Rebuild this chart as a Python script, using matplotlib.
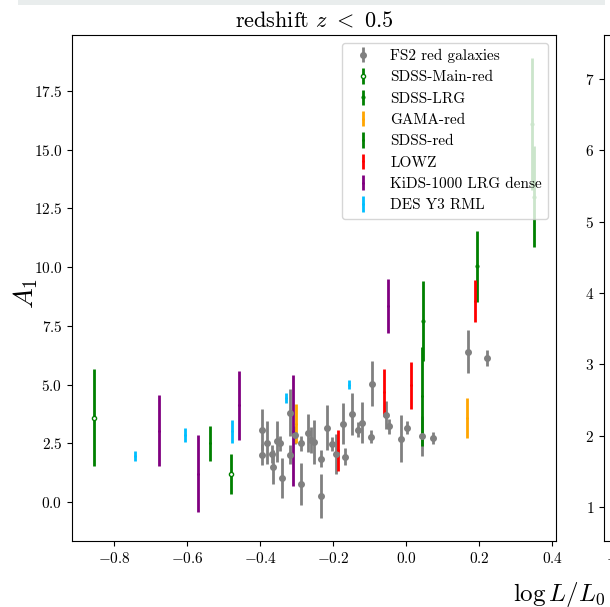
import matplotlib
matplotlib.use("Agg")
import matplotlib.pyplot as plt
from matplotlib.patches import Rectangle

plt.rcParams['font.family'] = 'serif'
plt.rcParams['font.serif'] = ['cmr10']
plt.rcParams['mathtext.fontset'] = 'cm'
plt.rcParams['axes.formatter.use_mathtext'] = True
plt.rcParams['axes.unicode_minus'] = True

# ---- data (log L/L0, A1, error) ----
fs2_x = [-0.394, -0.394, -0.381, -0.367, -0.364, -0.354, -0.345, -0.339, -0.319, -0.319,
         -0.304, -0.289, -0.289, -0.269, -0.262, -0.253, -0.233, -0.233, -0.217, -0.203,
         -0.193, -0.174, -0.168, -0.148, -0.133, -0.121, -0.097, -0.093, -0.055, -0.048,
         -0.0145, 0.002, 0.043, 0.074, 0.170, 0.222]
fs2_y = [3.09, 2.03, 2.54, 2.05, 1.50, 2.60, 2.50, 1.05, 3.80, 2.03,
         2.85, 2.50, 0.77, 2.95, 2.64, 2.57, 1.86, 0.26, 3.18, 2.47,
         2.07, 3.35, 1.93, 3.74, 3.09, 3.39, 2.78, 5.05, 3.70, 3.23,
         2.71, 3.18, 2.82, 2.74, 6.40, 6.14]
fs2_e = [0.87, 0.45, 0.92, 0.40, 0.72, 0.87, 0.30, 0.85, 1.00, 0.40,
         0.38, 0.30, 0.90, 0.80, 0.55, 0.95, 0.35, 0.93, 0.96, 0.30,
         0.85, 0.87, 0.36, 0.90, 0.32, 0.86, 0.28, 0.95, 0.60, 0.33,
         1.00, 0.27, 0.85, 0.26, 0.92, 0.35]

main_x = [-0.855, -0.481]
main_y = [3.60, 1.22]
main_e = [2.05, 0.85]

lrg_x = [0.047, 0.195, 0.345, 0.350]
lrg_y = [7.70, 10.03, 16.10, 13.00]
lrg_e = [1.70, 1.52, 2.80, 2.15]

gama_x = [-0.303, 0.166]
gama_y = [3.35, 3.60]
gama_e = [0.83, 0.85]

sred_x = [-0.537, 0.042]
sred_y = [2.50, 4.50]
sred_e = [0.75, 2.10]

lowz_x = [-0.187, -0.062, 0.0145, 0.189]
lowz_y = [2.21, 4.69, 4.98, 8.55]
lowz_e = [0.88, 1.00, 1.00, 0.90]

kids_x = [-0.678, -0.569, -0.457, -0.311, -0.051]
kids_y = [3.05, 1.22, 4.13, 3.05, 8.35]
kids_e = [1.50, 1.63, 1.47, 2.35, 1.15]

des_x = [-0.742, -0.606, -0.477, -0.329, -0.158]
des_y = [1.97, 2.87, 3.02, 4.43, 5.00]
des_e = [0.22, 0.30, 0.50, 0.20, 0.19]

right_yticks = [1, 2, 3, 4, 5, 6, 7]
right_xticks = [-0.8]

W, H = 610, 607
fig = plt.figure(figsize=(W / 100, H / 100), dpi=100)

# light band at the top edge
fig.add_artist(Rectangle((18 / W, 1 - 5 / H), (605 - 18) / W, 5 / H,
                         transform=fig.transFigure, color='#e9eded', lw=0))

ax = fig.add_axes([72 / W, 66 / H, 484 / W, 506 / H])

ax.errorbar(fs2_x, fs2_y, yerr=fs2_e, fmt='o', color='gray', ms=4, elinewidth=2,
            label='FS2 red galaxies')
ax.errorbar(main_x, main_y, yerr=main_e, fmt='o', color='green', ms=3, mfc='white',
            mew=1, elinewidth=2, label='SDSS-Main-red')
ax.errorbar(lrg_x, lrg_y, yerr=lrg_e, fmt='o', color='green', ms=2, elinewidth=2,
            label='SDSS-LRG')
ax.errorbar(gama_x, gama_y, yerr=gama_e, fmt='.', color='orange', ms=2, elinewidth=2,
            label='GAMA-red')
ax.errorbar(sred_x, sred_y, yerr=sred_e, fmt='.', color='green', ms=2, elinewidth=2,
            label='SDSS-red')
ax.errorbar(lowz_x, lowz_y, yerr=lowz_e, fmt='.', color='red', ms=2, elinewidth=2,
            label='LOWZ')
ax.errorbar(kids_x, kids_y, yerr=kids_e, fmt='.', color='purple', ms=2, elinewidth=2,
            label='KiDS-1000 LRG dense')
ax.errorbar(des_x, des_y, yerr=des_e, fmt='.', color='deepskyblue', ms=2, elinewidth=2,
            label='DES Y3 RML')

ax.set_title(r'redshift $z\ <\ 0.5$', fontsize=16)
ax.set_ylabel(r'$A_1$', fontsize=20)
ax.yaxis.set_label_coords(-0.066, 0.49)
ax.tick_params(labelsize=11)
ax.legend(loc='upper right', fontsize=11)

# neighbouring panel, partly cut off at the right edge
ax2 = fig.add_axes([604 / W, 66 / H, 484 / W, 506 / H])
ax2.set_ylim(0.52, 7.62)
ax2.set_xlim(-0.85, 0.45)
ax2.set_yticks(right_yticks)
ax2.set_xticks(right_xticks)
ax2.tick_params(labelsize=11)

fig.text(513 / W, 1 - 601 / H, r'$\log L/L_0$', fontsize=18, ha='left', va='baseline')

fig.savefig('out.png', dpi=100)
